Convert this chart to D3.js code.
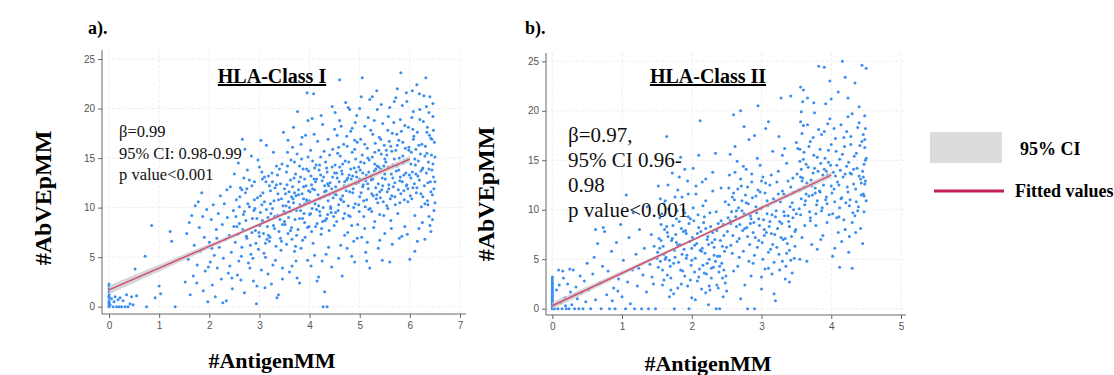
<!DOCTYPE html>
<html>
<head>
<meta charset="utf-8">
<script src="https://d3js.org/d3.v7.min.js"></script>
<style>
  body { margin: 0; background: #fff; }
  .tick text { font-family: "Liberation Sans", Arial, sans-serif; font-size: 10px; fill: #555; }
  .tick line { stroke: #666; }
  .domain { stroke: #666; }
</style>
</head>
<body>
<svg id="chart" width="1114" height="375"></svg>
<script>
// HLA-Class I: #AntigenMM vs #AbVEpMM
const classI = [
  [0,0],[0,0.3],[0,0.6],[0,0.9],[0,1.2],[0,1.5],[0,1.8],[0,2.1],[0,2.3],[0,0.1],[0,0.45],[0,1.05],[0.02,0.2],[0.05,0.8],[0.08,0],[0.1,0.5],[0.12,1],[0.15,0],[0.18,0.7],[0.2,0],[0.22,0.9],[0.25,0],[0.28,0.6],[0.32,0],[0.35,1.2],[0.38,0],[0.42,0.3],[0.45,1],[0.48,0.2],[0.52,3.8],[0.55,1.1],[0.72,5.1],[0.75,0],[0.85,8.2],[0.92,0.9],[1,2.1],[1.03,1.3],[1.22,7.6],[1.25,6.6],[1.32,0],
  [1.52,2.5],[1.55,7.4],[1.58,4.8],[1.6,8.5],[1.62,1.2],[1.65,9.2],[1.68,3.1],[1.7,6.2],[1.72,10.2],[1.75,2.4],[1.76,4.2],[1.78,10.6],[1.8,8],[1.82,5.6],[1.85,11.5],[1.88,1.6],[1.9,7],[1.92,3.6],[1.95,9.8],[1.97,0.5],[2,6.5],[2.02,4.5],[2.04,8.8],[2.06,2.2],[2.08,10.3],[2.1,5.2],[2.12,1],[2.14,7.8],[2.16,3.9],[2.18,9.4],[2.2,6],[2.22,11.2],[2.24,2.8],[2.26,8.3],[2.28,4.9],[2.3,10.4],[2.32,6.8],[2.34,0.6],[2.36,9],[2.38,3.4],[2.4,7.2],[2.42,12.1],[2.44,5.5],[2.46,1.8],[2.48,9.7],[2.5,13.4],[2.45,2.9],[2.05,5.9],[1.98,4],[2.35,11.8],[2.15,6.9],[2.27,0.4],[1.87,9.1],[2.41,4.1],[2.49,8.1],
  [2.52,6.5],[2.54,10.8],[2.56,3.2],[2.58,14.5],[2.6,8.4],[2.62,12],[2.64,5.1],[2.66,16.9],[2.68,9.3],[2.7,1.4],[2.72,11.5],[2.74,7.1],[2.76,13.8],[2.78,4.4],[2.8,10.1],[2.82,6.2],[2.84,15.2],[2.86,8.9],[2.88,2.6],[2.9,12.6],[2.92,7.7],[2.94,0.3],[2.96,11],[2.98,5.8],[3,14.1],[3.02,9.5],[3.04,3.7],[3.06,12.9],[3.08,7.4],[3.1,10.6],[3.12,5],[3.14,16.3],[3.16,8.1],[3.18,13.2],[3.2,6.6],[3.22,11.7],[3.24,2.3],[3.26,9.9],[3.28,15.6],[3.3,7.9],[3.32,4.7],[3.34,12.3],[3.36,9.2],[3.38,1.2],[3.4,13.9],[3.42,6.9],[3.44,10.9],[3.46,3.9],[3.48,17.6],[3.5,8.6],
  [2.53,9.1],[2.57,7.3],[2.61,11.1],[2.65,6],[2.69,13],[2.73,8.7],[2.77,10.4],[2.81,3.9],[2.85,12.2],[2.89,9.7],[2.93,6.4],[2.97,14.8],[3.01,8.2],[3.05,10.3],[3.09,5.4],[3.13,12.6],[3.17,9],[3.21,7],[3.25,13.5],[3.29,10.7],[3.33,6.1],[3.37,11.4],[3.41,8.8],[3.45,14.4],[3.49,9.6],[2.59,4.6],[2.67,7.8],[2.75,11.9],[2.83,5.3],[2.91,9.9],[2.99,7.5],[3.07,11.5],[3.15,6.8],[3.23,9.4],[3.31,12],[3.39,7.6],[3.47,10.2],[2.71,15.9],[3.03,16.8],[3.35,0.9],[2.95,2.1],[3.11,1.9],[3.27,4.2],[3.43,5.7],
  [3.52,11.4],[3.54,6.3],[3.56,14.2],[3.58,9],[3.6,3.5],[3.62,12.8],[3.64,8],[3.66,16.1],[3.68,10.5],[3.7,5.6],[3.72,13.4],[3.74,7.2],[3.76,19.7],[3.78,11.8],[3.8,2.4],[3.82,9.7],[3.84,14.9],[3.86,6.7],[3.88,12.1],[3.9,8.5],[3.92,17.3],[3.94,10.8],[3.96,4.7],[3.98,13.7],[4,9.3],[4.02,15.8],[4.04,7.6],[4.06,11.9],[4.08,21.5],[4.1,5.2],[4.12,12.6],[4.14,9.8],[4.16,16.7],[4.18,3],[4.2,10.9],[4.22,13.3],[4.24,7.9],[4.26,18.4],[4.28,11.1],[4.3,1.5],[4.32,14.6],[4.34,8.9],[4.36,12.4],[4.38,6],[4.4,15.3],[4.42,10.1],[4.44,4],[4.46,13.1],[4.48,9.1],[4.5,17.9],
  [3.51,8.3],[3.53,10.2],[3.55,12.3],[3.57,7.4],[3.59,11.6],[3.61,9.6],[3.63,14.8],[3.65,6.8],[3.67,10.9],[3.69,13],[3.71,8.8],[3.73,11.2],[3.75,15.4],[3.77,7.8],[3.79,12.6],[3.81,10.3],[3.83,5.9],[3.85,11.4],[3.87,13.9],[3.89,9.4],[3.91,7],[3.93,12.2],[3.95,10.6],[3.97,15.1],[3.99,8.1],[4.01,11.6],[4.03,13.2],[4.05,9.9],[4.07,6.4],[4.09,12.9],[4.11,10.4],[4.13,14.3],[4.15,8.4],[4.17,11.3],[4.19,13.8],[4.21,9.2],[4.23,7.3],[4.25,12.7],[4.27,10],[4.29,15.7],[4.31,8.7],[4.33,11.7],[4.35,13.6],[4.37,10.7],[4.39,7.7],[4.41,12.5],[4.43,9.5],[4.45,14.1],[4.47,11],[4.49,8.2],
  [3.6,10],[3.7,11.5],[3.8,8.9],[3.9,12.9],[4,10.7],[4.1,14],[4.2,9.6],[4.3,12.2],[4.4,11.3],[4.5,13.5],[3.65,4.1],[3.85,17.1],[4.05,19],[4.25,4.6],[4.45,20.2],[3.95,21.6],[4.15,2.6],[4.35,0],[3.75,2.9],[4.27,0],
  [4.52,12.1],[4.54,8.6],[4.56,15.5],[4.58,10.3],[4.6,18.8],[4.62,6.2],[4.64,13.7],[4.66,11.2],[4.68,16.4],[4.7,9.4],[4.72,20.6],[4.74,12.8],[4.76,7.5],[4.78,14.6],[4.8,11.6],[4.82,17.7],[4.84,5.1],[4.86,13.2],[4.88,10],[4.9,15.9],[4.92,12.4],[4.94,19.3],[4.96,8.3],[4.98,14.1],[5,11.1],[5.02,16.9],[5.04,7],[5.06,13.5],[5.08,10.7],[5.1,18.2],[5.12,12.7],[5.14,4.6],[5.16,15],[5.18,9.8],[5.2,20.9],[5.22,13.1],[5.24,11.4],[5.26,17.4],[5.28,8],[5.3,14.4],[5.32,12],[5.34,21.8],[5.36,10.5],[5.38,15.8],[5.4,6.7],[5.42,13.9],[5.44,11.8],[5.46,18.5],[5.48,9.2],[5.5,14.9],
  [4.51,14.3],[4.53,11.3],[4.55,13],[4.57,9.7],[4.59,12.6],[4.61,15.2],[4.63,10.8],[4.65,13.4],[4.67,8.9],[4.69,12.2],[4.71,14.7],[4.73,11.7],[4.75,16.2],[4.77,10.2],[4.79,13.3],[4.81,9.1],[4.83,12.9],[4.85,15.6],[4.87,11.9],[4.89,14],[4.91,10.4],[4.93,13.6],[4.95,16.6],[4.97,12.5],[4.99,9.6],[5.01,13.8],[5.03,11.5],[5.05,15.3],[5.07,12.3],[5.09,14.5],[5.11,10.1],[5.13,13.3],[5.15,16],[5.17,11.9],[5.19,14.8],[5.21,9.9],[5.23,12.8],[5.25,15.1],[5.27,11.2],[5.29,13.7],[5.31,16.5],[5.33,10.9],[5.35,14.2],[5.37,12.4],[5.39,17.1],[5.41,11],[5.43,15.4],[5.45,13],[5.47,10.6],[5.49,16.3],
  [4.6,22.9],[4.75,5.9],[4.9,4.5],[5.05,23.1],[5.2,3.9],[5.35,19.9],[5.45,4.7],[4.7,7.2],[4.85,18],[5,20],[5.15,6.5],[5.3,8.6],[4.55,17.3],[4.8,19.9],[5.1,7.9],[5.4,9.3],[4.65,3.1],[4.95,6.9],[5.25,21.2],[5.5,7.4],
  [5.52,14.6],[5.54,10.2],[5.56,17.8],[5.58,12.3],[5.6,20.1],[5.62,8.7],[5.64,15.7],[5.66,13],[5.68,18.6],[5.7,11.1],[5.72,21.1],[5.74,14.2],[5.76,9.4],[5.78,16.8],[5.8,12.7],[5.82,23.6],[5.84,7.1],[5.86,15.2],[5.88,11.7],[5.9,18.3],[5.92,13.5],[5.94,20.7],[5.96,10.6],[5.98,16.1],[6,4.8],[6.02,14.4],[6.04,19.1],[6.06,12],[6.08,17.2],[6.1,9.2],[6.12,15.9],[6.14,22.4],[6.16,13.2],[6.18,7.9],[6.2,18.9],[6.22,11.4],[6.24,16.4],[6.26,14],[6.28,21.3],[6.3,10.4],[6.32,23.1],[6.34,15.5],[6.36,12.5],[6.38,19.6],[6.4,8.2],[6.42,17],[6.44,13.8],[6.46,20.5],[6.48,11.9],[6.5,15.1],
  [5.51,12.9],[5.53,15.8],[5.55,11.6],[5.57,14.1],[5.59,16.7],[5.61,10.9],[5.63,13.4],[5.65,17.5],[5.67,12.1],[5.69,14.9],[5.71,10.3],[5.73,13.7],[5.75,16.3],[5.77,11.8],[5.79,15],[5.81,13.1],[5.83,17.7],[5.85,12.6],[5.87,14.5],[5.89,10.8],[5.91,16],[5.93,12.2],[5.95,14.8],[5.97,18.1],[5.99,13.3],[6.01,11.2],[6.03,15.6],[6.05,13.6],[6.07,16.9],[6.09,12.4],[6.11,14.3],[6.13,11.5],[6.15,17.6],[6.17,14.7],[6.19,12.8],[6.21,15.4],[6.23,10.1],[6.25,13.9],[6.27,18.7],[6.29,12.2],[6.31,16.2],[6.33,13.5],[6.35,10.7],[6.37,14.6],[6.39,17.3],[6.41,12.6],[6.43,15.3],[6.45,11.3],[6.47,13.1],[6.49,16.6],
  [6.45,8.8],[6.48,9.7],[6.42,7.6],[6.5,10.5],[6.38,9.1],[6.3,6.8],[6.1,5.6],[5.6,4.5],[5.65,6.3],[5.9,8.1],[6.2,19.9],[6.05,21.8],[5.75,22],[5.95,7.3],[6.15,6.6],[6.35,18.1],[6.46,19.2],[5.85,20.3],[6.25,8.5],[6.4,21.2],
  [3.02,11.2],[3.06,8.7],[3.1,13.1],[3.14,9.8],[3.18,7.2],[3.22,10.4],[3.26,12.6],[3.3,9.1],[3.34,14.2],[3.38,10.8],[3.42,12.4],[3.46,8.3],[3.5,11.9],[3.54,13.6],[3.58,10.6],[3.62,7.7],[3.66,12.1],[3.7,14.6],[3.74,9.7],[3.78,11.3],[3.82,13.1],[3.86,8.9],[3.9,10.4],[3.94,13.9],[3.98,11.7],[4.02,9.4],[4.06,14.7],[4.1,11.8],[4.14,12.9],[4.18,10.2],[4.22,15.1],[4.26,8.6],[4.3,11.6],[4.34,14],[4.38,12.2],[4.42,9.9],[4.46,15.9],[4.5,11.4],[4.54,13.5],[4.58,16.1],[4.62,10.9],[4.66,14.4],[4.7,12.6],[4.74,17.2],[4.78,9.2],[4.82,13.9],[4.86,11.5],[4.9,16.8],[4.94,13.1],[4.98,10.3],
  [5.02,14.6],[5.06,12.1],[5.1,16.4],[5.14,10.8],[5.18,13.6],[5.22,17.8],[5.26,12.9],[5.3,15.6],[5.34,11.3],[5.38,14.1],[5.42,16.9],[5.46,12.2],[5.5,13.4],[5.54,15.3],[5.58,11.9],[5.62,16.2],[5.66,14.3],[5.7,12.5],[5.74,17.4],[5.78,13.8],[5.82,11.4],[5.86,16.6],[5.9,14.7],[5.94,12.3],[5.98,15.8],[6.02,13],[6.06,17.9],[6.1,14.9],[6.14,12],[6.18,16.3],[6.22,13.7],[6.26,11.1],[6.3,15.2],[6.34,17.6],[6.38,13.9],[6.42,11.6],[6.46,14.4],[6.5,12.6],[6.44,16.9],[6.36,10.3],
  [2.55,8.1],[2.6,10.1],[2.65,11.8],[2.7,9.6],[2.75,6.9],[2.8,12.8],[2.85,7.5],[2.9,10.8],[2.95,8.9],[3,7.1],[3.05,13.6],[3.12,6.4],[3.2,12.2],[3.28,8.2],[3.36,13.3],[3.44,6.6],[3.52,9.4],[3.56,15.6],[3.64,11.1],[3.72,6.1],[3.8,14.2],[3.88,10.9],[3.96,8],[4.04,12.3],[4.12,8.1],[4.2,14.3],[4.28,13.1],[4.36,9.3],[4.44,11.9],[4.52,9.5],[4.6,14.1],[4.68,10.6],[4.76,13],[4.84,8.2],[4.92,14.9],[5,12.9],[5.08,9.1],[5.16,12.4],[5.24,9.6],[5.32,13.9],[5.4,11.6],[5.48,14.2],[5.56,9.9],[5.64,11.2],[5.72,15.8],[5.8,10.5],[5.88,13.3],[5.96,11.9],[6.04,10.9],[6.12,13.4],
  [3.57,16.8],[3.68,18.1],[3.83,16.4],[3.97,18.8],[4.09,17.4],[4.23,19.3],[4.37,16.9],[4.51,19.6],[4.63,18.2],[4.77,20.1],[4.91,18.6],[5.03,21.2],[5.17,19.1],[5.29,18.8],[5.43,20.4],[5.57,19.2],[5.69,20.7],[5.81,18.9],[5.93,21.6],[6.07,19.7],[6.19,21.5],[6.33,20.2],[6.47,17.8],[5.12,5.5],[4.88,6.6],[4.58,4.9],[4.33,5.3],[4.03,4.1],[3.73,4.6],[3.46,2.8],[3.17,3.3],[2.87,4.9],[2.63,2.7],[5.37,5.9],[5.63,7.9],[5.79,6.9]
];

// HLA-Class II
const classII = [
  [0,0],[0,0.2],[0,0.4],[0,0.6],[0,0.8],[0,1],[0,1.2],[0,1.4],[0,1.6],[0,1.8],[0,2],[0,2.2],[0,2.4],[0,2.6],[0,2.8],[0,3],[0,3.2],[0,0.1],[0,0.5],[0,0.9],[0,1.3],[0,1.7],[0,2.1],[0,2.5],
  [0.03,0],[0.06,1.9],[0.08,0],[0.1,2.4],[0.12,0.6],[0.14,0],[0.16,3.1],[0.18,1.1],[0.2,0],[0.22,2.5],[0.24,0],[0.26,1.7],[0.28,0.4],[0.3,3.9],[0.32,0],[0.34,2.2],[0.36,1],[0.38,0],[0.4,3.3],[0.42,1.6],[0.44,0],[0.46,2.8],[0.48,0.7],[0.5,4.6],[0.09,3.9],[0.15,3.8],[0.25,4],[0.19,0.3],[0.33,1.4],
  [0.52,1.9],[0.55,0],[0.58,3.5],[0.6,5.2],[0.62,0.9],[0.65,6.6],[0.68,2.6],[0.7,0],[0.72,4.3],[0.75,7.8],[0.78,1.4],[0.8,3.8],[0.82,0],[0.85,5.8],[0.88,2.1],[0.9,0],[0.92,6.7],[0.95,3],[0.98,8.5],[1,1.2],[1.02,4.9],[1.05,0],[1.08,2.7],[1.1,7.2],[1.12,0.5],[1.15,3.9],[1.18,0],[1.2,5.5],[1.22,2.3],[1.25,8],[1.28,0],[1.3,3.4],[1.32,6.1],[1.35,1.7],[1.38,0],[1.4,4.5],[1.42,7.5],[1.45,2.5],[1.48,0],[1.5,5.1],[0.62,8],[0.73,8.2],[0.86,0.8],[1.06,11.5],[1.16,9.7],[1.36,10.3],[1.43,3.2],[0.94,1.8],[1.24,4.1],[1.46,6.3],
  [1.52,12.4],[1.54,6.1],[1.56,8.5],[1.58,3.9],[1.6,10.6],[1.62,5],[1.64,17.4],[1.66,7.3],[1.68,1.2],[1.7,9.4],[1.72,13.7],[1.74,4.6],[1.76,11.3],[1.78,6.7],[1.8,2.1],[1.82,8.8],[1.84,15.3],[1.86,5.5],[1.88,10],[1.9,3.3],[1.92,7.6],[1.94,12.9],[1.96,0],[1.98,9.1],[2,4.9],[2.02,14.2],[2.04,6.4],[2.06,11.6],[2.08,2.8],[2.1,8.2],[2.12,19],[2.14,5.8],[2.16,10.4],[2.18,3.6],[2.2,13.1],[2.22,7],[2.24,0.4],[2.26,9.7],[2.28,4.1],[2.3,11.9],[2.32,6.2],[2.34,15.7],[2.36,2.4],[2.38,8.6],[2.4,5.3],[2.42,12.2],[2.44,3.1],[2.46,7.4],[2.48,10.8],[2.5,1.8],
  [1.51,5.7],[1.53,7.1],[1.55,4.8],[1.57,9.6],[1.59,6.3],[1.61,8],[1.63,5.2],[1.65,7.7],[1.67,10.1],[1.69,4.3],[1.71,6.9],[1.73,8.4],[1.75,5.9],[1.77,7.5],[1.79,9.9],[1.81,4.7],[1.83,6.5],[1.85,8.1],[1.87,3.8],[1.89,6],[1.91,7.9],[1.93,5.4],[1.95,9.3],[1.97,6.8],[1.99,4.4],[2.01,7.2],[2.03,8.9],[2.05,5.1],[2.07,6.6],[2.09,9.5],[2.11,4],[2.13,7.8],[2.15,6.1],[2.17,8.7],[2.19,5.6],[2.21,3.5],[2.23,7.3],[2.25,5],[2.27,8.3],[2.29,6.7],[2.31,4.2],[2.33,7],[2.35,9.8],[2.37,5.3],[2.39,3.7],[2.41,6.9],[2.43,4.6],[2.45,8.5],[2.47,5.8],[2.49,3.3],
  [1.6,2.9],[1.7,1.9],[1.8,12],[1.9,14.1],[2,1.1],[2.1,15.5],[2.2,1.6],[2.3,13.8],[2.4,0],[1.75,0],[1.85,2.5],[1.95,11.6],[2.05,0.9],[2.15,12.8],[2.25,2.3],[2.35,0],[2.45,1.2],[1.65,3.4],[2.2,10.9],[1.55,11.1],
  [2.52,9.2],[2.54,13.5],[2.56,6.4],[2.58,11.3],[2.6,3.8],[2.62,16.4],[2.64,8.3],[2.66,12.1],[2.68,5.2],[2.7,20],[2.72,9.9],[2.74,14.4],[2.76,2.4],[2.78,10.7],[2.8,7.3],[2.82,17.1],[2.84,8.6],[2.86,12.8],[2.88,4.6],[2.9,0],[2.92,10.3],[2.94,15.2],[2.96,6.9],[2.98,11.8],[3,3.2],[3.02,13.3],[3.04,8],[3.06,18.2],[3.08,9.6],[3.1,5.7],[3.12,12.5],[3.14,7.6],[3.16,15.9],[3.18,1.5],[3.2,10.9],[3.22,6.2],[3.24,13.9],[3.26,8.8],[3.28,21.3],[3.3,4.8],[3.32,11.6],[3.34,7.1],[3.36,14.7],[3.38,9.4],[3.4,5.9],[3.42,12.3],[3.44,3.6],[3.46,10],[3.48,7.8],[3.5,16.8],
  [2.51,7.8],[2.53,10.5],[2.55,8.9],[2.57,9.8],[2.59,7.4],[2.61,11],[2.63,9.3],[2.65,6.8],[2.67,10.2],[2.69,8.5],[2.71,12.4],[2.73,7.9],[2.75,9.6],[2.77,11.5],[2.79,8.2],[2.81,10.6],[2.83,6.5],[2.85,9.1],[2.87,11.2],[2.89,8.7],[2.91,7.2],[2.93,9.7],[2.95,12],[2.97,8.4],[2.99,10.1],[3.01,6.7],[3.03,9],[3.05,11.7],[3.07,7.7],[3.09,10.4],[3.11,8.3],[3.13,6],[3.15,9.5],[3.17,11.1],[3.19,7.5],[3.21,9.9],[3.23,8.1],[3.25,5.5],[3.27,10.8],[3.29,8.6],[3.31,7],[3.33,9.4],[3.35,11.4],[3.37,6.6],[3.39,8.8],[3.41,10.3],[3.43,7.3],[3.45,9.2],[3.47,5.1],[3.49,8],
  [2.6,19.6],[2.7,1],[2.8,0],[2.9,17.5],[3,2],[3.1,18.9],[3.2,0.8],[3.3,15.5],[3.4,2.7],[2.65,14.9],[2.85,3.3],[3.05,4],[3.25,17.4],[3.45,13.2],[2.55,15.6],[2.75,18.4],[2.95,20.5],[3.15,3.5],[3.35,4.3],[3.42,21.5],
  [3.52,16.2],[3.54,10.1],[3.56,22.4],[3.58,12.9],[3.6,18.5],[3.62,8.4],[3.64,14.6],[3.66,21.3],[3.68,11.4],[3.7,16.9],[3.72,6.5],[3.74,13.7],[3.76,19.8],[3.78,9.6],[3.8,15.3],[3.82,24.5],[3.84,11.8],[3.86,17.6],[3.88,7.4],[3.9,14.1],[3.92,20.7],[3.94,10.6],[3.96,16],[3.98,23],[4,12.4],[4.02,5.3],[4.04,18.2],[4.06,13.4],[4.08,9.2],[4.1,21.9],[4.12,15.1],[4.14,11.1],[4.16,25],[4.18,17.3],[4.2,8],[4.22,14.4],[4.24,19.4],[4.26,10.4],[4.28,16.6],[4.3,4.1],[4.32,12.6],[4.34,22.8],[4.36,15.7],[4.38,9.9],[4.4,18.8],[4.42,13.1],[4.44,24.6],[4.46,11.6],[4.48,17.1],[4.5,24.3],
  [3.51,13.6],[3.53,12],[3.55,14.9],[3.57,11.1],[3.59,13.2],[3.61,15.8],[3.63,10.9],[3.65,12.7],[3.67,14.3],[3.69,9.8],[3.71,13],[3.73,11.5],[3.75,15.5],[3.77,12.2],[3.79,10.5],[3.81,13.9],[3.83,11.9],[3.85,14.7],[3.87,10.2],[3.89,12.5],[3.91,15.2],[3.93,11.3],[3.95,13.5],[3.97,9.5],[3.99,14.5],[4.01,11.7],[4.03,13.8],[4.05,10.8],[4.07,15.9],[4.09,12.8],[4.11,9.3],[4.13,14],[4.15,11.2],[4.17,13.3],[4.19,16.4],[4.21,10.7],[4.23,12.3],[4.25,14.8],[4.27,11],[4.29,13.6],[4.31,9.7],[4.33,15.4],[4.35,12.1],[4.37,14.2],[4.39,10.3],[4.41,16.5],[4.43,12.7],[4.45,13.9],[4.47,11.4],[4.49,15],
  [3.55,5],[3.65,4.8],[3.85,7],[4.05,6.1],[4.15,6.8],[4.25,5.7],[4.35,7.7],[4.45,6.6],[3.75,20.8],[3.95,18.7],[4,21.2],[4.2,23.4],[4.4,20.4],[3.6,22.1],[3.9,24.4],[4.12,4.2],[3.7,8.9],[4.3,8.7],[4.48,19.5],[3.8,6],
  [1.52,4.2],[1.56,6.9],[1.6,5.5],[1.64,8.3],[1.68,4.9],[1.72,7.1],[1.76,5.2],[1.8,6.4],[1.84,3.9],[1.88,7.8],[1.92,5.1],[1.96,8.6],[2,6.1],[2.04,3.7],[2.08,7.6],[2.12,5.9],[2.16,4.4],[2.2,8.1],[2.24,6.5],[2.28,3.1],[2.32,5.4],[2.36,7.9],[2.4,4.3],[2.44,6.3],[2.48,2.6],[1.54,9.2],[1.62,10.9],[1.7,3.1],[1.78,9.1],[1.86,11.3],[1.94,2.3],[2.02,10.2],[2.1,3.2],[2.18,9.3],[2.26,1.9],[2.34,4.8],[2.42,8.9],[2.5,6.2],[1.58,2.4],[1.66,12.5],[1.74,1.5],[1.82,13.3],[1.9,9.7],[1.98,2.9],[2.06,12.4],[2.14,2],[2.22,4.6],[2.3,7.7],[2.38,2.1],[2.46,3.9],
  [2.56,8.6],[2.6,11.7],[2.64,9.9],[2.68,7.1],[2.72,10.9],[2.76,8.1],[2.8,12.3],[2.84,9.4],[2.88,7.7],[2.92,11.4],[2.96,9.1],[3,12.9],[3.04,7.4],[3.08,10.9],[3.12,8.8],[3.16,6.5],[3.2,9.3],[3.24,11.6],[3.28,7.2],[3.32,9.8],[3.36,5.6],[3.4,8.3],[3.44,10.7],[3.48,6.3],[2.58,5.6],[2.62,13.8],[2.66,4.3],[2.7,13.1],[2.74,5.8],[2.78,14.1],[2.82,4.8],[2.86,13.6],[2.9,5.4],[2.94,6.2],[2.98,14.5],[3.02,5],[3.06,12.7],[3.1,4.1],[3.14,13.5],[3.18,4.7],[3.22,12.8],[3.26,3.9],[3.3,11.9],[3.34,3],[3.38,12.9],[3.42,4.9],[3.46,11.8],[3.5,9.6],[2.53,12.2],[3.33,16.2],
  [3.56,13.3],[3.6,15.1],[3.64,11.6],[3.68,16.4],[3.72,12.4],[3.76,14.2],[3.8,10.9],[3.84,16.1],[3.88,13.5],[3.92,11],[3.96,14.8],[4,16.6],[4.04,12.1],[4.08,14.5],[4.12,10.2],[4.16,15.6],[4.2,13.6],[4.24,11.8],[4.28,17.4],[4.32,14.1],[4.36,10.8],[4.4,13.4],[4.44,16.9],[4.48,12.6],[3.58,17.7],[3.62,10.5],[3.66,18.6],[3.7,9.2],[3.74,17.3],[3.78,8.4],[3.82,18.1],[3.86,9.9],[3.9,17.9],[3.94,8.7],[3.98,19.2],[4.02,9.6],[4.06,17.2],[4.1,7.7],[4.14,18.6],[4.18,9],[4.22,17.9],[4.26,7.3],[4.3,19.7],[4.34,9.4],[4.38,18.3],[4.42,8.1],[4.46,17.6],[4.5,10.9],[3.57,19.9],[4.24,21.3],
  [3.55,16.1],[3.55,12],[3.56,9.5],[3.57,14.1],[3.56,18.9],[3.58,7.2],[3.59,20.9],[4.47,14.6],[4.49,12.9],[4.48,16.3],[4.5,15.2],[4.46,13.3],[4.49,18.2],[4.47,9.8],[3.61,12.3],[3.77,11.7],[3.93,13.9],[4.11,12.5],[4.27,13.7],[4.43,11.5]
];

// fitted lines: x, fitted y, CI half-width at start / mid / end
const fitI = { x: [0, 3, 6], y: [1.7, 8.3, 14.9], ci: [0.45, 0.15, 0.3] };
const fitII = { x: [0, 2, 4], y: [0.3, 6.9, 13.5], ci: [0.35, 0.12, 0.3] };

const xTicksI = [0, 1, 2, 3, 4, 5, 6, 7];
const xTicksII = [0, 1, 2, 3, 4, 5];
const yTicks = [0, 5, 10, 15, 20, 25];

const statsI = ["β=0.99", "95% CI: 0.98-0.99", "p value<0.001"];
const statsII = ["β=0.97,", "95% CI 0.96-", "0.98", "p value<0.001"];

const svg = d3.select("#chart");
const serif = "'Liberation Serif', 'Times New Roman', serif";
const dotColor = "#3a8ef0";
const fitColor = "#cf4f72";

function panel(o) {
  const x = d3.scaleLinear().domain(o.xDomain).range(o.xRange);
  const y = d3.scaleLinear().domain([0, 25]).range(o.yRange);
  const g = svg.append("g");

  // faint grid
  g.append("g").selectAll("line").data(o.xTicks).join("line")
    .attr("x1", d => x(d)).attr("x2", d => x(d))
    .attr("y1", o.top).attr("y2", o.axisY)
    .attr("stroke", "#eeeeee").attr("stroke-dasharray", "3,2");
  g.append("g").selectAll("line").data(yTicks).join("line")
    .attr("x1", o.axisX).attr("x2", o.right)
    .attr("y1", d => y(d)).attr("y2", d => y(d))
    .attr("stroke", "#eeeeee").attr("stroke-dasharray", "3,2");

  // points
  g.append("g").selectAll("circle").data(o.data).join("circle")
    .attr("cx", d => x(d[0])).attr("cy", d => y(d[1]))
    .attr("r", 1.5).attr("fill", dotColor);

  // CI band + fitted line
  const f = o.fit;
  const band = f.x.map((v, i) => [v, f.y[i] - f.ci[i], f.y[i] + f.ci[i]]);
  g.append("path").datum(band)
    .attr("d", d3.area().x(d => x(d[0])).y0(d => y(d[1])).y1(d => y(d[2])))
    .attr("fill", "#c8c8c8").attr("opacity", 0.75);
  g.append("line")
    .attr("x1", x(f.x[0])).attr("y1", y(f.y[0]))
    .attr("x2", x(f.x[2])).attr("y2", y(f.y[2]))
    .attr("stroke", fitColor).attr("stroke-width", 1.5);

  // axes
  g.append("g").attr("transform", `translate(0,${o.axisY})`)
    .call(d3.axisBottom(x).tickValues(o.xTicks).tickFormat(d3.format("d")).tickSize(4).tickPadding(4))
    .call(a => a.select(".domain").attr("d", `M${o.axisX},0H${o.right}`));
  g.append("g").attr("transform", `translate(${o.axisX},0)`)
    .call(d3.axisLeft(y).tickValues(yTicks).tickFormat(d3.format("d")).tickSize(4).tickPadding(3))
    .call(a => a.select(".domain").attr("d", `M0,${o.top}V${o.axisY}`));

  // panel letter
  g.append("text").attr("font-family", serif).attr("x", o.letterX).attr("y", 34)
    .attr("font-size", 18).attr("font-weight", "bold").text(o.letter);

  // title (underlined)
  g.append("text").attr("font-family", serif).attr("x", o.titleX).attr("y", 83)
    .attr("text-anchor", "middle").attr("font-size", 20).attr("font-weight", "bold")
    .attr("text-decoration", "underline").text(o.title);

  // stats annotation
  g.append("g").selectAll("text").data(o.stats).join("text")
    .attr("font-family", serif).attr("x", o.statsX)
    .attr("y", (d, i) => o.statsY + i * o.statsStep)
    .attr("font-size", o.statsSize).attr("fill", "#111").text(d => d);

  // axis titles
  g.append("text").attr("font-family", serif)
    .attr("transform", `translate(${o.yLabelX},${o.yLabelY}) rotate(-90)`)
    .attr("text-anchor", "middle").attr("font-size", 24).attr("font-weight", "bold")
    .text("#AbVEpMM");
  g.append("text").attr("font-family", serif).attr("x", o.xLabelX).attr("y", o.xLabelY)
    .attr("text-anchor", "middle").attr("font-size", 22).attr("font-weight", "bold")
    .text("#AntigenMM");
}

panel({
  data: classI, fit: fitI, xDomain: [0, 7], xRange: [109, 460], yRange: [306.7, 59],
  xTicks: xTicksI, axisX: 102, axisY: 314, top: 50, right: 466,
  letter: "a).", letterX: 88, title: "HLA-Class I", titleX: 272,
  stats: statsI, statsX: 119, statsY: 137, statsStep: 21.5, statsSize: 16.5,
  yLabelX: 51, yLabelY: 198, xLabelX: 272, xLabelY: 368
});

panel({
  data: classII, fit: fitII, xDomain: [0, 5], xRange: [552.3, 901], yRange: [308.7, 61.3],
  xTicks: xTicksII, axisX: 546, axisY: 315, top: 53, right: 906,
  letter: "b).", letterX: 525, title: "HLA-Class II", titleX: 708,
  stats: statsII, statsX: 568, statsY: 142, statsStep: 25, statsSize: 21,
  yLabelX: 494, yLabelY: 194, xLabelX: 708, xLabelY: 371
});

// legend
const lg = svg.append("g");
lg.append("rect").attr("x", 930).attr("y", 132).attr("width", 72).attr("height", 31).attr("fill", "#dcdcdc");
lg.append("text").attr("font-family", serif).attr("x", 1020).attr("y", 155)
  .attr("font-size", 18).attr("font-weight", "bold").text("95% CI");
lg.append("line").attr("x1", 934).attr("x2", 1004).attr("y1", 191).attr("y2", 191)
  .attr("stroke", "#c41d5c").attr("stroke-width", 3);
lg.append("text").attr("font-family", serif).attr("x", 1015).attr("y", 197)
  .attr("font-size", 18).attr("font-weight", "bold").text("Fitted values");
</script>
</body>
</html>
